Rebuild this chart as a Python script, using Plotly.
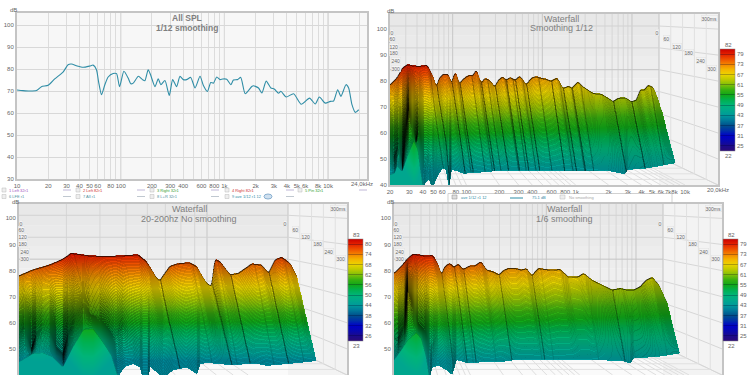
import numpy as np
import plotly.graph_objects as go

# ---------- Panel 1: All SPL, 1/12 smoothing ----------
SPL_HZ = [10,11.4,13.2,15.4,17.2,20,23.1,27.8,31.1,33.5,38,43.4,50.4,54.2,58.4,61.1,65.3,70.3,75.7,84.6,91.2,97.5,
          107.3,118,125,132,148,162,171,184,194,214,230,244,267,294,317,346,373,402,432,473,521,582,627,685,738,783,
          843,908,964,1053,1152,1222,1336,1438,1585,1837,1905,2131,2296,2527,2805,3020,3326,3500,3944,4645,5508,6622,
          7516,8222,9397,10500,11300,12360,13300,14860,15770,16980,18280,19720]
SPL_DB = [70.5,70.2,70,70.2,72,72.6,75.5,78.6,82,82.3,81.4,80.8,81.4,81.8,79.7,74.4,68.3,72.9,76.4,78,77.9,72,
          79,75.9,73.3,73.6,76.7,75.2,74.7,79.7,77.4,72,75.6,72.9,74.8,68,75.2,72,76.7,75.2,75.2,76.2,71.4,76.7,72.5,69.8,
          73.9,73.6,76.4,75.2,75.5,75.4,72.9,75,75.2,76.2,68.8,72.1,72.4,71.4,69.1,74.5,71.4,70.9,69,69.9,67.3,68.8,64,66.8,
          64.1,67.3,64.5,65.3,65.5,70.6,67.6,72.9,71.4,63.8,60.3,61.5]

# ---------- Waterfalls: x in decades above 20 Hz, y in dB ----------
P2_TOP_DEC = [0,.067,.113,.159,.205,.266,.343,.388,.425,.45,.486,.532,.563,.596,.636,.679,.725,.755,.792,.832,.869,.908,.96,.991,
              1.031,1.061,1.101,1.144,1.19,1.245,1.291,1.336,1.382,1.428,1.474,1.529,1.581,1.636,1.664,1.719,1.765,1.81,1.856,
              1.933,1.994,2.04,2.086,2.147,2.208,2.254,2.291,2.33,2.361,2.407,2.453,2.489]
P2_TOP_DB = [78.6,81.5,85,86.5,86,85.8,86.2,82.4,77.7,81.2,82.8,82.8,79.2,83.8,79.2,81.2,82.4,82.1,84.5,79.2,81.2,80.5,77.9,80.5,
             81.8,80.5,81.5,80.5,82.1,78.6,81.2,81.9,81.2,80.9,80.1,81.4,77.3,78.2,77.3,79.9,77.9,76.7,75.4,
             75.1,73.5,72.2,73.5,73.8,72.2,72.8,76.9,76.7,78.6,77.7,72.8,67.7]
P2_BOT_DEC = [0,.043,.067,.113,.159,.22,.257,.281,.306,.327,.358,.388,.434,.48,.511,.541,.563,.618,.679,.74,.832,.985,1.229,1.443,
              1.688,1.994,2.147,2.177,2.361,2.615]
P2_BOT_DB = [44,44.6,47.6,45.3,51,57.1,53.6,45.9,38.8,41,42,38.8,43.3,46.5,45.9,38.8,45.9,45.3,44.2,44.9,44.9,45.5,45.6,45.6,
             45.3,45.5,44.2,45.9,46.5,48.5]
P2_MID_DEC = [0,.037,.083,.113,.144,.174,.205,.235,.266,.312,.358,.404]
P2_MID_DB = [56.2,51,56.2,48.5,60,69,65.1,57.4,62.6,51,47.2,46.5]

P3_TOP_DEC = [0,.043,.094,.134,.16,.18,.216,.267,.328,.364,.389,.42,.43,.445,.46,.481,.521,.542,.562,.572,.588,.593,.598,.613,
              .644,.669,.71,.74,.761,.781,.801,.827,.847]
P3_TOP_DB = [78.1,80.4,82.3,84.5,86.8,86.4,85.8,85.5,85.9,86.2,83.6,77.2,76.3,79.1,81.7,82.7,83.2,81.7,77.2,75.3,74,80.4,84.5,83.6,
             78.5,79.1,82.7,82.3,79.1,84.2,85.3,82.9,77.8]
P3_BOT_DEC = [0,.043,.073,.104,.134,.165,.196,.226,.252,.282,.302,.323,.348,.369,.377,.394,.399,.42,.44,.47,.511,.542,.552,.572,
              .654,.715,.756,.837,.91]
P3_BOT_DB = [45.1,48.3,48.6,47,43.2,50.9,57.3,57.7,53.5,47.7,39.4,43.2,44.2,42.9,38.7,38.7,43.2,40.9,38.7,41.9,42.9,40.4,44.2,44.7,
             43.8,44.5,43.6,44.5,45.5]
P3_MID_DEC = [0,.017,.038,.053,.073,.094,.114,.134,.15,.17,.196,.216,.246,.277,.297,.318,.338,.369,.389,.42]
P3_MID_DB = [54.7,57.9,50.2,55.9,58.5,57.2,50.8,48.2,55.9,61.7,66.2,63.6,62.2,57.2,54.7,58.5,55.9,52.1,50.8,50.8]

P4_TOP_DEC = [0,.067,.128,.174,.22,.281,.358,.404,.434,.465,.511,.55,.587,.633,.694,.74,.795,.847,.908,.96,1,1.046,1.107,1.168,1.214,
              1.26,1.321,1.382,1.443,1.52,1.596,1.688,1.734,1.81,1.902,1.994,2.07,2.131,2.193,2.254,2.3,2.361,2.422,2.498]
P4_TOP_DB = [79.1,81.7,84.9,86.4,86.2,85.8,85.9,82.3,78.5,81.7,82.9,81.4,82.7,80.6,81.9,81.9,83.6,80.4,79.7,78.5,80.1,81,81,80.4,80.9,
             78.1,81,80.6,80.3,80.6,77.6,77.8,79.1,76.5,74.6,72.7,73.3,72.7,72.7,74,76.3,77.6,74.6,67.6]
P4_BOT_DEC = [0,.067,.128,.205,.251,.297,.327,.349,.404,.48,.532,.572,.679,.832,.985,1.107,1.413,1.81,2.086,2.162,2.193,2.422,2.615]
P4_BOT_DB = [45.8,49.6,53.5,56.3,54.1,47,38.7,42.9,43.6,41.9,40,45.8,44.5,45.1,45.1,45.8,46,45.8,45.5,44.5,46.4,47.1,48.3]
P4_MID_DEC = [0,.037,.098,.128,.174,.22,.281,.358,.404]
P4_MID_DB = [54.7,54.1,59.9,72.7,67.6,59.9,57.3,47,46.4]

TICK_HZ = [10,20,30,40,50,60,70,80,90,100,200,300,400,500,600,700,800,900,1000,2000,3000,4000,5000,6000,7000,8000,9000,10000,20000]
P1_LABELS = {10:"10",20:"20",30:"30",40:"40",50:"50",60:"60",80:"80",100:"100",200:"200",300:"300",400:"400",600:"600",800:"800",
             1000:"1k",2000:"2k",3000:"3k",4000:"4k",5000:"5k",6000:"6k",8000:"8k",10000:"10k"}
P2_LABELS = {20:"20",30:"30",40:"40",50:"50",60:"60",80:"80",100:"100",200:"200",300:"300",400:"400",600:"600",800:"800",
             1000:"1k",2000:"2k",3000:"3k",4000:"4k",5000:"5k",6000:"6k",7000:"7k",8000:"8k",10000:"10k"}
TIME_LABELS = ["0","60","120","180","240","300"]
LEGEND_ROW1 = ["1 Left 32r1","2 Left 82r1","3 Right 32r1","4 Right 82r1","5 Pin 32r1"]
LEGEND_ROW2 = ["6 LFE r1","7 All r1","8 L+R 32r1","9 ave 1/12 r1 12"]

FONT = "Liberation Sans"
TXT = "#666666"
COLORS = [(22,"#2c0a78"),(25,"#1c0a8c"),(28,"#0808b0"),(31,"#0000c8"),(34,"#0030a8"),(37,"#00508c"),(40,"#00789a"),(43,"#009a9a"),
          (46,"#00a88c"),(49,"#00b478"),(52,"#00b050"),(55,"#10a818"),(58,"#38b010"),(61,"#80c008"),(64,"#bcca00"),(67,"#ecd400"),
          (70,"#f4b400"),(73,"#f48400"),(76,"#ee5000"),(79,"#e42000"),(82,"#c80000")]
CSCALE = [[(v-22)/60,c] for v,c in COLORS]

SS = 2
N_SLICES = 76

def soften(xs,ys,width):
    g = np.linspace(xs[0],xs[-1],3000)
    v = np.interp(g,xs,ys)
    n = max(1,int(width/(g[1]-g[0])))
    ker = np.ones(n)/n
    for _ in range(2):
        pad = np.r_[np.full(n,v[0]),v,np.full(n,v[-1])]
        v = np.convolve(pad,ker,mode="same")[n:-n]
    return g,v

def render(T_d,T_y,B_d,B_y,M_d,M_y,span,ytop,w,h,curtain,dmax,g0,g1,line_a,crease_a,peak_a):
    W,H = w*SS,h*SS
    dec = (np.arange(W)+.5)/W*span
    db = 40+(np.arange(H)+.5)/H*(ytop-40)
    T_d,T_y,B_d,B_y = map(np.array,(T_d,T_y,B_d,B_y))
    d = dmax*np.minimum(1,dec/.15)
    sT = soften(T_d,T_y,.02*span/3)
    interpT = lambda a: np.interp(a,sT[0],sT[1],right=np.nan)
    B = np.interp(dec,*soften(B_d,B_y,.008*span/3),right=np.nan)
    sm = .7
    blend = (1-sm)*interpT(dec-sm*d)+sm*B
    Mv = np.interp(dec,M_d,M_y)
    wt = np.clip((M_d[-1]+.0-dec)/.12,0,1)
    delta = np.nan_to_num((Mv-blend)*wt)
    F = np.where(dec<curtain,30.0,B)
    frac = dec/span
    g = g0+(g1-g0)*frac
    C = np.maximum(43+(db[:,None]-46)*g[None,:],42.5)
    Bn = np.nan_to_num(B,nan=46.0)
    C2 = np.maximum(45.5,(43+(Bn-46)*g+2)[None,:]-(Bn[None,:]-db[:,None])*.55)
    col = np.zeros((H,W)); dark = np.zeros((H,W)); paint = np.zeros((H,W),bool)
    dy = (ytop-40)/H
    thick = dy*1.0
    lowk = np.minimum(1,wt*(.5+np.abs(delta)/12))
    rows = db[:,None]
    starts = []
    for i in range(1,len(T_y)-1):
        if T_y[i]<T_y[i-1]-.6 and T_y[i]<=T_y[i+1]-.6:
            starts.append((T_d[i],crease_a))
        elif T_y[i]>T_y[i-1]+.3 and T_y[i]>=T_y[i+1]+.3 and T_d[i]>.3*span/3:
            starts.append((T_d[i]+.02*span/3,peak_a))
    tracks = [[] for _ in starts]
    for k in range(N_SLICES):
        s = k/(N_SLICES-1)
        hs = s/sm if s<sm else (1-s)/(1-sm)
        y = (1-s)*interpT(dec-s*d)+s*B+delta*hs
        if k==N_SLICES-1:
            y = np.where(np.isnan(interpT(dec-d)),B,y)
        mask = (rows<=y[None,:])&(rows>=F[None,:])
        col[mask] = C[mask]; dark[mask] = 0; paint |= mask
        if k==N_SLICES-1:
            front = mask&(dec<curtain)[None,:]
            col[front] = C2[front]
        y2 = np.r_[y[1:],y[-1]]
        hi = np.fmax(y,y2)
        lo = np.fmin(y,y2)-thick*(2 if k==0 else 1)
        line = (rows<=hi[None,:])&(rows>=lo[None,:])&(rows>=F[None,:])
        a = np.full(W,.7) if k==0 else np.clip(line_a+.45*lowk*hs,0,.8)
        aa = np.broadcast_to(a[None,:],line.shape)
        dark[line] = 1-(1-dark[line])*(1-aa[line])
        for t,(d0,_) in enumerate(starts):
            pos = d0+s*dmax*min(1,d0/.15)
            c = int(pos/span*W)
            if 0<=c<W-2 and not np.isnan(y[c]):
                tracks[t].append((c,y[c]))
    for t,tr in enumerate(tracks):
        al = starts[t][1]
        for (c0,y0),(c1,y1) in zip(tr[:-1],tr[1:]):
            for c in (c1,c1+1):
                if c>=W: continue
                m = (db<=max(y0,y1)+dy)&(db>=min(y0,y1)-dy)&(db>=F[c])&paint[:,c]
                dark[m,c] = np.maximum(dark[m,c],al)
    def ds(a): return a.reshape(h,SS,w,SS).mean(axis=(1,3))
    cov = ds(paint.astype(float))
    cz = ds(col*paint)/np.maximum(cov,1e-6)
    cz = np.where(cov>=.5,cz,np.nan)
    dz = ds(dark)
    xc = 20*10**((np.arange(w)+.5)/w*span)
    yc = 40+(np.arange(h)+.5)/h*(ytop-40)
    return xc,yc,np.round(cz,1),np.round(dz,3)

# ---------- figure ----------
fig = go.Figure()
px = lambda x: x/750
py = lambda y: 1-y/375
annots = []
def note(x,y,text,size=6,color=TXT,bold=False,box=False,anchor="center"):
    a = dict(xref="paper",yref="paper",x=px(x),y=py(y),text=("<b>%s</b>"%text if bold else text),showarrow=False,
             font=dict(family=FONT,size=size,color=color),xanchor=anchor,yanchor="middle")
    if box:
        a.update(bgcolor="#f4f4f4",bordercolor="#e2e2e2",borderwidth=.5,borderpad=0)
    annots.append(a)

fig.add_trace(go.Scatter(x=SPL_HZ,y=SPL_DB,mode="lines",line=dict(color="#2f8da6",width=1.1,shape="spline",smoothing=.6),
                         hoverinfo="skip",xaxis="x",yaxis="y",showlegend=False))

shapes = []
def vline(xr,yr,x,y0,y1,c,wd=1,x1=None,layer="below"):
    shapes.append(dict(type="line",xref=xr,yref=yr,x0=x,x1=x if x1 is None else x1,y0=y0,y1=y1,line=dict(color=c,width=wd),layer=layer))

for f in [100,1000,10000]:
    vline("x","y",f,30,105.5,"#bcbcbc",1)

def wall(xr,yr,span,ytop,x_freqs):
    k = .82
    corner = span*k
    hz = lambda dc: 20*10**dc
    for i in range(8):
        y0 = 40+(ytop-40)*(1-(i+1)/8); y1 = 40+(ytop-40)*(1-i/8)
        v = int(232+i*2.6)
        shapes.append(dict(type="rect",xref=xr,yref=yr,x0=20,x1=hz(corner),y0=y0,y1=y1,line=dict(width=0),
                           fillcolor="rgb(%d,%d,%d)"%(v,v,v),layer="below"))
    shapes.append(dict(type="rect",xref=xr,yref=yr,x0=hz(corner),x1=hz(span),y0=40,y1=ytop,line=dict(width=0),
                       fillcolor="#f3f3f3",layer="below"))
    by0 = 50.77
    for f in x_freqs:
        dc = np.log10(f/20)
        if dc<=0 or dc>span: continue
        c = "#c6c6c6" if f in (100,1000,10000) else "#d6d6d6"
        vline(xr,yr,hz(dc*k),by0,ytop,c)
        vline(xr,yr,hz(dc*k),by0,40,"#dedede",1,x1=hz(dc))
    vline(xr,yr,hz(corner),by0,ytop,"#cfcfcf")
    for n in range(40,101,10):
        yb = by0+(n-40)*.84
        vline(xr,yr,20,yb,yb,"#d2d2d2" if n!=80 else "#c4c4c4",1,x1=hz(corner))
        vline(xr,yr,hz(corner),yb,n,"#d6d6d6",1,x1=hz(span))
    for fr in (.2,.4,.6,.8):
        xx = corner+(span-corner)*fr
        yy = by0+(40-by0)*fr
        vline(xr,yr,hz(xx),yy,ytop,"#e0e0e0")
        vline(xr,yr,20,yy,yy,"#e0e0e0",1,x1=hz(xx))

F_ALL = [30,40,50,60,70,80,90,100,200,300,400,500,600,700,800,900,1000,2000,3000,4000,5000,6000,7000,8000,9000,10000,20000]
wall("x2","y2",3,105.8,F_ALL)
wall("x3","y3",1,105.5,F_ALL)
wall("x4","y4",3,105.5,F_ALL)

panels = [
 dict(n="2",T=(P2_TOP_DEC,P2_TOP_DB),B=(P2_BOT_DEC,P2_BOT_DB),M=(P2_MID_DEC,P2_MID_DB),span=3,ytop=105.8,curt=.306,d=.122,g=(.93,.66),
      zr=(22,82),cb=(720,49,102),ticks=[25,31,37,43,49,55,61,67,73,79],ca=(.55,.38)),
 dict(n="3",T=(P3_TOP_DEC,P3_TOP_DB),B=(P3_BOT_DEC,P3_BOT_DB),M=(P3_MID_DEC,P3_MID_DB),span=1,ytop=105.5,curt=.302,d=.06,g=(.95,.88),
      zr=(23,83),cb=(348,239,102),ticks=[26,32,38,44,50,56,62,68,74,80],ca=(.5,.2)),
 dict(n="4",T=(P4_TOP_DEC,P4_TOP_DB),B=(P4_BOT_DEC,P4_BOT_DB),M=(P4_MID_DEC,P4_MID_DB),span=3,ytop=105.5,curt=.327,d=.116,g=(.93,.66),
      zr=(22,82),cb=(723,239,102),ticks=[25,31,37,43,49,55,61,67,73,79],ca=(.4,.15)),
]
ALPHA = "rgba(0,0,0,0)"
for p in panels:
    x,y,cz,dz = render(*p["T"],*p["B"],*p["M"],p["span"],p["ytop"],328,171,p["curt"],p["d"],*p["g"],.22,*p["ca"])
    cbx,cby,cbh = p["cb"]
    fig.add_trace(go.Heatmap(x=x,y=y,z=cz.tolist(),zmin=p["zr"][0],zmax=p["zr"][1],colorscale=CSCALE,hoverinfo="skip",
        xaxis="x"+p["n"],yaxis="y"+p["n"],
        colorbar=dict(x=px(cbx),xanchor="left",y=py(cby),yanchor="top",len=cbh,lenmode="pixels",thickness=15,thicknessmode="pixels",
                      xpad=0,ypad=0,outlinewidth=.5,outlinecolor="#888888",tickvals=p["ticks"],ticktext=[str(t) for t in p["ticks"]],
                      ticks="inside",ticklen=15,tickcolor="rgba(0,0,40,.28)",tickwidth=1,
                      tickfont=dict(family=FONT,size=6,color=TXT))))
    fig.add_trace(go.Heatmap(x=x,y=y,z=dz.tolist(),zmin=0,zmax=1,colorscale=[[0,ALPHA],[1,"rgba(0,0,0,1)"]],showscale=False,
        hoverinfo="skip",xaxis="x"+p["n"],yaxis="y"+p["n"]))
    note(cbx+8,cby-4,str(p["zr"][1]))
    note(cbx+8,cby+cbh+5,str(p["zr"][0]))

def ax_common():
    return dict(showline=True,linecolor="#c4c4c4",linewidth=2,mirror=True,ticks="",zeroline=False,tickangle=0,
                tickfont=dict(family=FONT,size=6,color=TXT))
lay = dict(width=750,height=375,autosize=False,margin=dict(l=0,r=0,t=0,b=0,autoexpand=False),paper_bgcolor="white",plot_bgcolor="#f7f7f7",showlegend=False)

lay["xaxis"] = dict(ax_common(),type="log",range=[1,np.log10(23700)],domain=[px(17),px(367)],anchor="y",
                    tickvals=TICK_HZ,ticktext=[P1_LABELS.get(t,"") for t in TICK_HZ],showgrid=True,gridcolor="#dcdcdc",gridwidth=1)
lay["yaxis"] = dict(ax_common(),range=[30,105.5],domain=[py(179),py(13)],anchor="x",tickvals=list(range(30,101,10)),showgrid=True,gridcolor="#d8d8d8")
lay["xaxis2"] = dict(ax_common(),type="log",range=[np.log10(20),np.log10(20000)],domain=[px(390),px(718)],anchor="y2",showgrid=False,
                     tickvals=list(P2_LABELS.keys()),ticktext=list(P2_LABELS.values()))
lay["yaxis2"] = dict(ax_common(),range=[40,105.8],domain=[py(185),py(14)],anchor="x2",tickvals=list(range(40,101,10)),showgrid=False)
lay["xaxis3"] = dict(ax_common(),type="log",range=[np.log10(20),np.log10(200)],domain=[px(19),px(347)],anchor="y3",showgrid=False,showticklabels=False)
lay["yaxis3"] = dict(ax_common(),range=[40,105.5],domain=[0,py(204)],anchor="x3",tickvals=list(range(40,101,10)),showgrid=False)
lay["xaxis4"] = dict(ax_common(),type="log",range=[np.log10(20),np.log10(20000)],domain=[px(394),px(722)],anchor="y4",showgrid=False,showticklabels=False)
lay["yaxis4"] = dict(ax_common(),range=[40,105.5],domain=[0,py(204)],anchor="x4",tickvals=list(range(40,101,10)),showgrid=False)

TC = "#7f7f7f"
note(187,18,"All SPL",8.5,TC,True); note(187,28,"1/12 smoothing",8.5,TC,True)
note(561,19,"Waterfall",9,TC); note(561,28.5,"Smoothing 1/12",9,TC)
note(189,209,"Waterfall",9,TC); note(189,218.5,"20-200hz No smoothing",9,TC)
note(564,209,"Waterfall",9,TC); note(564,218.5,"1/6 smoothing",9,TC)
note(13,10,"dB"); note(390,11,"dB"); note(15,201.5,"dB"); note(390,201.5,"dB")
note(362,183.5,"24,0kHz"); note(718,189.5,"20,0kHz")
L_Y = [33,39,46,53,61,68.5]
for base,lx,rx,ms in [(375,[50,52,58,58,62,62],[845,875,907,942,977,1012],(1002,19)),
                      (0,[62,65,70,70,74,74],[855,887,918,953,988,1024],(1015,18.5)),
                      (375,[62,65,70,70,74,74],[855,887,918,953,988,1024],(1015,18.5))]:
    top = 0 if base==375 and lx[0]==50 else 190
    for t,lxx,rxx,yy in zip(TIME_LABELS,lx,rx,L_Y):
        note(base+lxx/3,top+yy,t,5,TXT,box=True)
        note(base+rxx/3,top+yy,t,5,TXT,box=True)
    note(base+ms[0]/3,top+ms[1],"300ms",5,TXT,box=True)

LC1 = ["#a050c0","#d03030","#30a030","#d03030","#30a030"]
for lab,c,xx in zip(LEGEND_ROW1,LC1,[2,76,150,225,298]):
    shapes.append(dict(type="rect",xref="paper",yref="paper",x0=px(xx),x1=px(xx+4),y0=py(192),y1=py(188),line=dict(color="#bbbbbb",width=.5),fillcolor="#eeeeee"))
    note(xx+5,190,lab,4,c,anchor="left")
    shapes.append(dict(type="line",xref="paper",yref="paper",x0=px(xx+61),x1=px(xx+69),y0=py(190),y1=py(190),line=dict(color="#c0b8d8",width=1)))
for lab,c,xx in zip(LEGEND_ROW2,["#5090a0","#5090a0","#5090a0","#2f8da6"],[2,76,150,225]):
    shapes.append(dict(type="rect",xref="paper",yref="paper",x0=px(xx),x1=px(xx+4),y0=py(198.5),y1=py(194.5),line=dict(color="#bbbbbb",width=.5),fillcolor="#eeeeee"))
    note(xx+5,196.5,lab,4,c,anchor="left")
    shapes.append(dict(type="line",xref="paper",yref="paper",x0=px(xx+61),x1=px(xx+69),y0=py(196.5),y1=py(196.5),line=dict(color="#c0c8d0",width=1)))
shapes.append(dict(type="circle",xref="paper",yref="paper",x0=px(264),x1=px(272),y0=py(199),y1=py(194),line=dict(color="#8ab0d0",width=1),fillcolor="#cfe0ef"))
shapes.append(dict(type="path",xref="paper",yref="paper",path="M %f,%f L %f,%f L %f,%f L %f,%f"%(px(448),py(203),px(448),py(193.5),px(672),py(193.5),px(672),py(203)),
                   line=dict(color="#bdbdbd",width=.7)))
shapes.append(dict(type="rect",xref="paper",yref="paper",x0=px(452),x1=px(457),y0=py(199),y1=py(195),line=dict(color="#888888",width=.5),fillcolor="#dddddd"))
note(459,197.5,"ave 1/12 r1 12",4,"#2f8da6",anchor="left")
shapes.append(dict(type="line",xref="paper",yref="paper",x0=px(510),x1=px(523),y0=py(198),y1=py(198),line=dict(color="#2f8da6",width=1)))
note(530,197.5,"75.1 dB",4,"#2f8da6",anchor="left")
shapes.append(dict(type="rect",xref="paper",yref="paper",x0=px(560),x1=px(565),y0=py(199),y1=py(195),line=dict(color="#bbbbbb",width=.5),fillcolor="#eeeeee"))
note(567,197.5,"No smoothing",4,"#a8a8a8",anchor="left")

lay["shapes"] = shapes
lay["annotations"] = annots
fig.update_layout(**lay)
fig.write_html("out.html",config={"displayModeBar":False},post_script="document.body.style.margin='0';document.documentElement.style.overflow='hidden';")
